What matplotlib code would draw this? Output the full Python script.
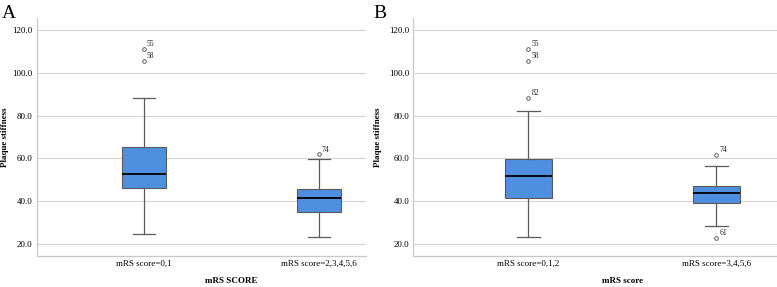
import matplotlib
matplotlib.use('Agg')
import matplotlib.pyplot as plt

plt.rcParams['font.family'] = ['Liberation Serif', 'DejaVu Serif']

# panel A: mRS 0,1 vs 2-6
catsA = ['mRS score=0,1', 'mRS score=2,3,4,5,6']
statsA = [
    dict(med=52.5, q1=46.2, q3=65.3, whislo=24.4, whishi=88.3, fliers=[111.3, 105.6]),
    dict(med=41.5, q1=35.0, q3=45.5, whislo=23.1, whishi=59.8, fliers=[61.8]),
]
fliersA_ids = [['55', '58'], ['74']]

# panel B: mRS 0,1,2 vs 3-6
catsB = ['mRS score=0,1,2', 'mRS score=3,4,5,6']
statsB = [
    dict(med=51.5, q1=41.2, q3=59.8, whislo=23.0, whishi=82.0, fliers=[111.3, 105.6, 88.3]),
    dict(med=43.6, q1=39.2, q3=46.9, whislo=28.3, whishi=56.2, fliers=[61.7, 22.8]),
]
fliersB_ids = [['55', '58', '82'], ['74', '61']]

yticks = [20, 40, 60, 80, 100, 120]

W, H = 777, 287
fig = plt.figure(figsize=(W / 100, H / 100), dpi=100)


def panel(left, right, stats, cats, ids, xlim, xlabel, letter, letter_x, ylab_x):
    ax = fig.add_axes([left / W, 1 - 255.7 / H, (right - left) / W, (255.7 - 18.3) / H])
    ax.bxp(stats, positions=[0, 1], widths=0.25, patch_artist=True,
           showfliers=True,
           boxprops=dict(facecolor='#4f8fe0', edgecolor='#5a5a5a', linewidth=0.8),
           medianprops=dict(color='black', linewidth=1.3),
           whiskerprops=dict(color='#5a5a5a', linewidth=0.9),
           capprops=dict(color='#5a5a5a', linewidth=0.9),
           flierprops=dict(marker='o', markersize=2.6, markerfacecolor='white',
                           markeredgecolor='#444444', markeredgewidth=0.6),
           zorder=3)
    ax.set_xlim(*xlim)
    ax.set_ylim(14.4, 125.5)
    ax.set_yticks(yticks)
    ax.set_yticklabels(['%.1f' % v for v in yticks])
    ax.set_xticks([0, 1])
    ax.set_xticklabels(cats)
    ax.tick_params(length=0, labelsize=6.5, pad=3)
    ax.yaxis.grid(True, color='#d4d4d4', linewidth=0.8, zorder=0)
    ax.set_axisbelow(True)
    for s in ['top', 'right']:
        ax.spines[s].set_visible(False)
    for s in ['left', 'bottom']:
        ax.spines[s].set_color('#c8c8c8')
        ax.spines[s].set_linewidth(0.9)
    for i, st in enumerate(stats):
        for v, lab in zip(st['fliers'], ids[i]):
            ax.annotate(lab, (i, v), xytext=(2.2, 1.8), textcoords='offset points',
                        fontsize=5.5, color='#222222')
    ax.set_ylabel('Plaque stiffness', fontsize=6.5, fontweight='bold')
    ax.yaxis.set_label_coords((ylab_x - left) / (right - left), 0.5)
    ax.set_xlabel(xlabel, fontsize=6.5, fontweight='bold')
    mid = (0.5 - xlim[0]) / (xlim[1] - xlim[0])
    ax.xaxis.set_label_coords(mid, -0.088)
    fig.text(letter_x / W, 1 - 14 / H, letter, fontsize=14, va='center', ha='left')
    return ax


panel(36.7, 365.7, statsA, catsA, fliersA_ids, (-0.614, 1.269), 'mRS SCORE', 'A', 2, 9)
panel(413.3, 776.7, statsB, catsB, fliersB_ids, (-0.611, 1.32), 'mRS score', 'B', 373, 382)

fig.savefig('out.png', dpi=100)
